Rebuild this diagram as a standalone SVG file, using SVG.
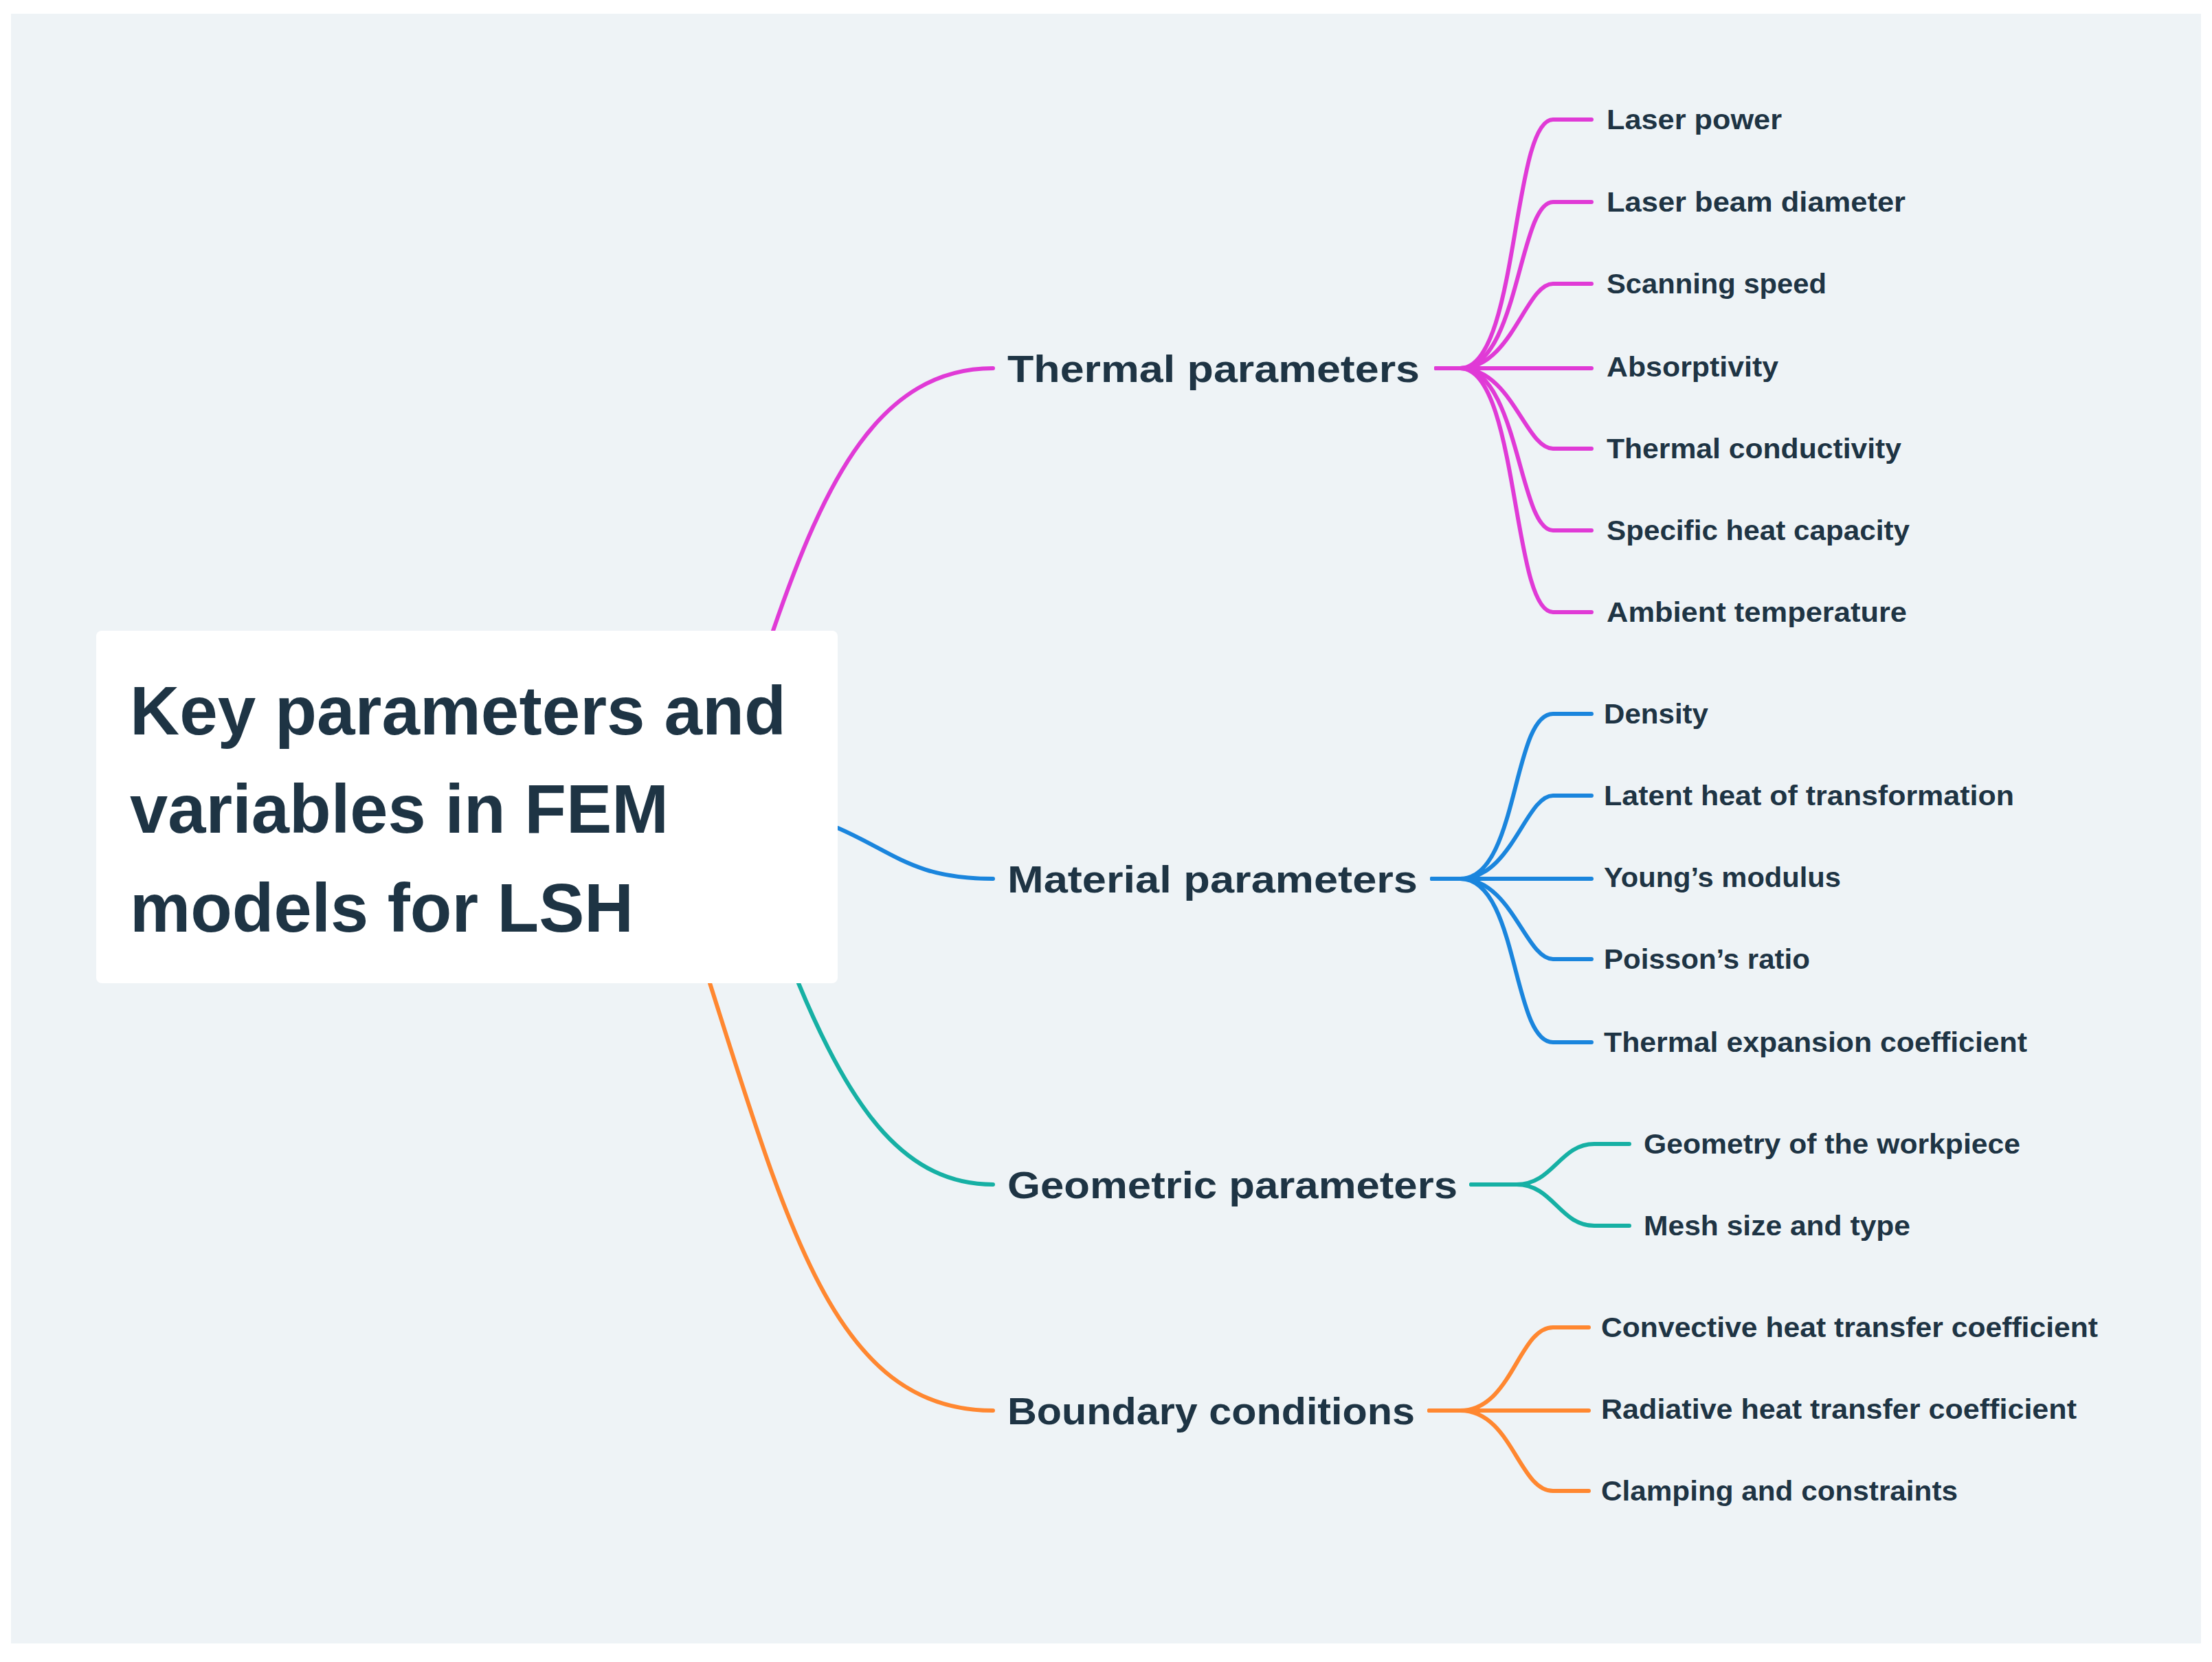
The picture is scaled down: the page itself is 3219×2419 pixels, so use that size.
<svg xmlns="http://www.w3.org/2000/svg" width="3219" height="2419" viewBox="0 0 3219 2419">
<style>
text{font-family:"Liberation Sans",Arial,sans-serif;font-weight:bold;fill:#1e3444}
.t{font-size:100px}.m{font-size:56px}.c{font-size:40px}
path{fill:none;stroke-width:6;stroke-linecap:round}
.pk{stroke:#e03ad6}.bl{stroke:#1a85dd}.tl{stroke:#16b0a4}.or{stroke:#ff8730}
</style>
<rect width="3219" height="2419" fill="#ffffff"/>
<rect x="16" y="20" width="3187" height="2372" fill="#eef3f6"/>
<g id="connectors">
<path class="pk" d="M1125,918 C1200,700 1280,536 1445,536"/>
<path class="bl" d="M1219,1205 C1300,1240 1330,1279 1445,1279"/>
<path class="tl" d="M1162,1431 C1240,1620 1320,1724 1445,1724"/>
<path class="or" d="M1033,1431 C1150,1800 1220,2053 1445,2053"/>
<path class="pk" d="M2090,536 H2125 C2210,536 2200,174 2260,174 H2316"/>
<path class="pk" d="M2090,536 H2125 C2210,536 2210,294 2260,294 H2316"/>
<path class="pk" d="M2090,536 H2125 C2200,536 2220,413 2260,413 H2316"/>
<path class="pk" d="M2090,536 H2316"/>
<path class="pk" d="M2090,536 H2125 C2200,536 2220,653 2260,653 H2316"/>
<path class="pk" d="M2090,536 H2125 C2210,536 2210,772 2260,772 H2316"/>
<path class="pk" d="M2090,536 H2125 C2210,536 2200,891 2260,891 H2316"/>
<path class="bl" d="M2084,1279 H2125 C2210,1279 2200,1039 2260,1039 H2316"/>
<path class="bl" d="M2084,1279 H2125 C2200,1279 2220,1158 2260,1158 H2316"/>
<path class="bl" d="M2084,1279 H2316"/>
<path class="bl" d="M2084,1279 H2125 C2200,1279 2220,1396 2260,1396 H2316"/>
<path class="bl" d="M2084,1279 H2125 C2210,1279 2200,1517 2260,1517 H2316"/>
<path class="tl" d="M2141,1724 H2207 C2260,1724 2270,1665 2320,1665 H2371"/>
<path class="tl" d="M2141,1724 H2207 C2260,1724 2270,1784 2320,1784 H2371"/>
<path class="or" d="M2080,2053 H2125 C2200,2053 2210,1932 2260,1932 H2312"/>
<path class="or" d="M2080,2053 H2312"/>
<path class="or" d="M2080,2053 H2125 C2200,2053 2210,2170 2260,2170 H2312"/>
</g>
<g id="root">
<rect x="140" y="918" width="1079" height="513" rx="8" fill="#ffffff"/>
<text class="t" x="189" y="1069" textLength="955" lengthAdjust="spacingAndGlyphs">Key parameters and</text>
<text class="t" x="189" y="1212" textLength="784" lengthAdjust="spacingAndGlyphs">variables in FEM</text>
<text class="t" x="189" y="1356" textLength="733" lengthAdjust="spacingAndGlyphs">models for LSH</text>
</g>
<g id="thermal"><text class="m" x="1466" y="556" textLength="600" lengthAdjust="spacingAndGlyphs">Thermal parameters</text></g>
<g id="material"><text class="m" x="1466" y="1299" textLength="597" lengthAdjust="spacingAndGlyphs">Material parameters</text></g>
<g id="geometric"><text class="m" x="1466" y="1744" textLength="655" lengthAdjust="spacingAndGlyphs">Geometric parameters</text></g>
<g id="boundary"><text class="m" x="1466" y="2073" textLength="593" lengthAdjust="spacingAndGlyphs">Boundary conditions</text></g>
<g id="t1"><text class="c" x="2338" y="188" textLength="255" lengthAdjust="spacingAndGlyphs">Laser power</text></g>
<g id="t2"><text class="c" x="2338" y="308" textLength="435" lengthAdjust="spacingAndGlyphs">Laser beam diameter</text></g>
<g id="t3"><text class="c" x="2338" y="427" textLength="320" lengthAdjust="spacingAndGlyphs">Scanning speed</text></g>
<g id="t4"><text class="c" x="2338" y="548" textLength="250" lengthAdjust="spacingAndGlyphs">Absorptivity</text></g>
<g id="t5"><text class="c" x="2338" y="667" textLength="429" lengthAdjust="spacingAndGlyphs">Thermal conductivity</text></g>
<g id="t6"><text class="c" x="2338" y="786" textLength="441" lengthAdjust="spacingAndGlyphs">Specific heat capacity</text></g>
<g id="t7"><text class="c" x="2338" y="905" textLength="437" lengthAdjust="spacingAndGlyphs">Ambient temperature</text></g>
<g id="m1"><text class="c" x="2334" y="1053" textLength="152" lengthAdjust="spacingAndGlyphs">Density</text></g>
<g id="m2"><text class="c" x="2334" y="1172" textLength="597" lengthAdjust="spacingAndGlyphs">Latent heat of transformation</text></g>
<g id="m3"><text class="c" x="2334" y="1291" textLength="345" lengthAdjust="spacingAndGlyphs">Young’s modulus</text></g>
<g id="m4"><text class="c" x="2334" y="1410" textLength="300" lengthAdjust="spacingAndGlyphs">Poisson’s ratio</text></g>
<g id="m5"><text class="c" x="2334" y="1531" textLength="616" lengthAdjust="spacingAndGlyphs">Thermal expansion coefficient</text></g>
<g id="g1"><text class="c" x="2392" y="1679" textLength="548" lengthAdjust="spacingAndGlyphs">Geometry of the workpiece</text></g>
<g id="g2"><text class="c" x="2392" y="1798" textLength="388" lengthAdjust="spacingAndGlyphs">Mesh size and type</text></g>
<g id="b1"><text class="c" x="2330" y="1946" textLength="723" lengthAdjust="spacingAndGlyphs">Convective heat transfer coefficient</text></g>
<g id="b2"><text class="c" x="2330" y="2065" textLength="692" lengthAdjust="spacingAndGlyphs">Radiative heat transfer coefficient</text></g>
<g id="b3"><text class="c" x="2330" y="2184" textLength="519" lengthAdjust="spacingAndGlyphs">Clamping and constraints</text></g>
</svg>
